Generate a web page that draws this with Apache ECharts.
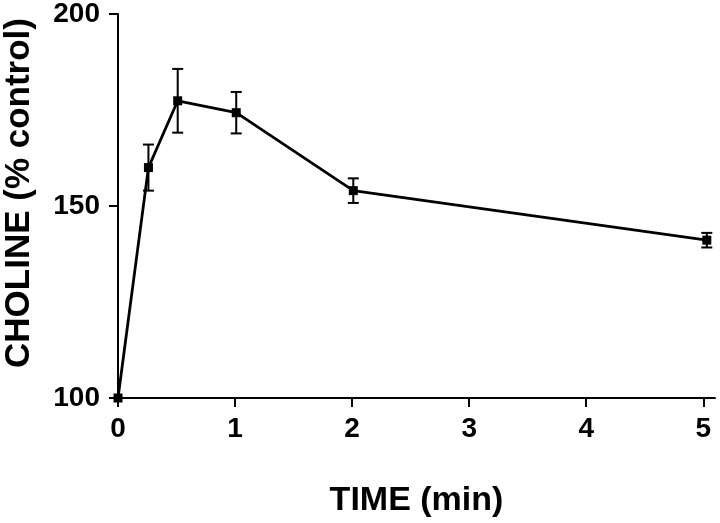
<!DOCTYPE html>
<html>
<head>
<meta charset="utf-8">
<script src="https://cdn.jsdelivr.net/npm/echarts@6/dist/echarts.min.js"></script>
<style>html,body{margin:0;padding:0;background:#fff;}#c{width:720px;height:523px;}</style>
</head>
<body>
<div id="c"></div>
<script>
// Data
var times = [0, 0.26, 0.51, 1.01, 2.01, 5.03];
var choline = [100, 160, 177.4, 174.3, 154.0, 141.1];
var errors = [0, 6, 8.3, 5.4, 3.2, 1.9];
var xTickValues = [0, 1, 2, 3, 4, 5];
var yTickValues = [100, 150, 200];

var FONT = '"Liberation Sans", Arial, Helvetica, sans-serif';
var lineData = times.map(function (t, i) { return [t, choline[i]]; });
var errData = times.map(function (t, i) { return [t, choline[i] - errors[i], choline[i] + errors[i]]; });

var chart = echarts.init(document.getElementById('c'), null, { renderer: 'canvas' });
chart.setOption({
  animation: false,
  backgroundColor: '#ffffff',
  grid: { left: 118, top: 14, right: 5, bottom: 111.5, containLabel: false },
  xAxis: {
    type: 'value', min: 0, max: 5.1, interval: 1,
    name: 'TIME (min)', nameLocation: 'middle', nameGap: 86,
    nameTextStyle: { color: '#000', fontSize: 34, fontWeight: 'bold', fontFamily: FONT },
    axisLine: { show: true, lineStyle: { color: '#000', width: 2 } },
    axisTick: { show: true, length: 9, lineStyle: { color: '#000', width: 2 }, customValues: xTickValues },
    axisLabel: { color: '#000', fontSize: 28, fontWeight: 'bold', fontFamily: FONT, margin: 17, customValues: xTickValues },
    splitLine: { show: false }
  },
  yAxis: {
    type: 'value', min: 100, max: 200, interval: 50,
    axisLine: { show: true, lineStyle: { color: '#000', width: 2 } },
    axisTick: { show: true, length: 9, lineStyle: { color: '#000', width: 2 }, customValues: yTickValues },
    axisLabel: { color: '#000', fontSize: 28, fontWeight: 'bold', fontFamily: FONT, margin: 18, customValues: yTickValues },
    splitLine: { show: false }
  },
  graphic: [{
    type: 'text', left: 2, top: 18, rotation: Math.PI / 2,
    style: { text: 'CHOLINE (% control)', fill: '#000', font: 'bold 35px ' + FONT }
  }],
  series: [
    {
      type: 'custom',
      data: errData,
      z: 3,
      renderItem: function (params, api) {
        var x = api.value(0);
        var lo = api.coord([x, api.value(1)]);
        var hi = api.coord([x, api.value(2)]);
        var cap = 5.5;
        var st = { stroke: '#000', lineWidth: 2 };
        return {
          type: 'group',
          children: [
            { type: 'line', shape: { x1: lo[0], y1: lo[1], x2: hi[0], y2: hi[1] }, style: st },
            { type: 'line', shape: { x1: hi[0] - cap, y1: hi[1], x2: hi[0] + cap, y2: hi[1] }, style: st },
            { type: 'line', shape: { x1: lo[0] - cap, y1: lo[1], x2: lo[0] + cap, y2: lo[1] }, style: st }
          ]
        };
      }
    },
    {
      type: 'line',
      data: lineData,
      z: 4,
      symbol: 'rect', symbolSize: 9,
      itemStyle: { color: '#000' },
      lineStyle: { color: '#000', width: 2.8 }
    }
  ]
});
</script>
</body>
</html>
